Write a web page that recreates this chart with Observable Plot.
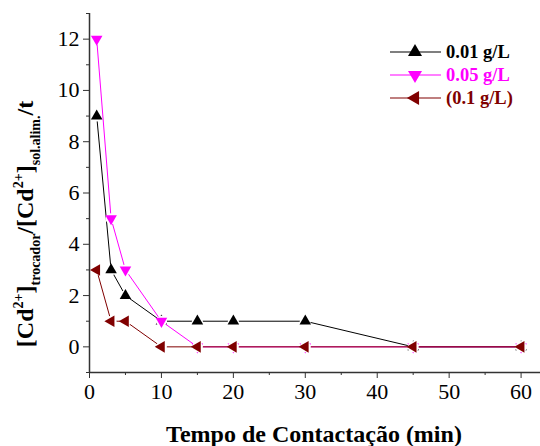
<!DOCTYPE html>
<html>
<head>
<meta charset="utf-8">
<script src="https://cdn.jsdelivr.net/npm/d3@7"></script>
<script src="https://cdn.jsdelivr.net/npm/@observablehq/plot@0.6"></script>
<style>
  html, body { margin: 0; padding: 0; background: #fff; }
  #chart svg { display: block; }
  #chart svg text { font-family: "Liberation Serif", "Times New Roman", serif !important; }
</style>
</head>
<body>
<div id="chart"></div>
<script>
const times = [1, 3, 5, 10, 15, 20, 30, 45, 60];
const series001 = [9, 3, 2, 1, 1, 1, 1, 0, 0];
const series005 = [12, 5, 3, 1, 0, 0, 0, 0, 0];
const series01 = [3, 1, 1, 0, 0, 0, 0, 0, 0];
const seriesNames = ["0.01 g/L", "0.05 g/L", "(0.1 g/L)"];
const seriesColors = ["#000000", "#ff00ff", "#800000"];
const seriesRotate = [0, 180, -90];
const xMajorTicks = [0, 10, 20, 30, 40, 50, 60];
const xMinorTicks = [5, 15, 25, 35, 45, 55];
const yMajorTicks = [0, 2, 4, 6, 8, 10, 12];
const yMinorTicks = [-1, 1, 3, 5, 7, 9, 11, 13];

const allValues = [series001, series005, series01];
const data = [];
allValues.forEach((vals, si) => {
  vals.forEach((v, i) => data.push({series: seriesNames[si], t: times[i], v, si}));
});

const W = 540, H = 446;
const font = "'Liberation Serif', 'Times New Roman', serif";

const marks = [
  Plot.ruleY([-1], {stroke: "#333", strokeWidth: 1.5}),
  Plot.ruleX([0], {stroke: "#333", strokeWidth: 1.5}),
  Plot.axisX(xMajorTicks, {tickSize: 6, tickPadding: 5, fontSize: 22, label: null, stroke: "#333"}),
  Plot.axisX(xMinorTicks, {tickSize: 3, text: null, label: null, stroke: "#333"}),
  Plot.axisY(yMajorTicks, {tickSize: 6, tickPadding: 4, fontSize: 22, label: null, stroke: "#333"}),
  Plot.axisY(yMinorTicks, {tickSize: 3, text: null, label: null, stroke: "#333"})
];
seriesNames.forEach((name, si) => {
  const d = data.filter(p => p.si === si);
  marks.push(Plot.line(d, {x: "t", y: "v", stroke: seriesColors[si], strokeWidth: 1}));
  marks.push(Plot.dot(d, {x: "t", y: "v", symbol: "circle", r: 5.5, fill: "#fff", stroke: "none"}));
  marks.push(Plot.dot(d, {x: "t", y: "v", symbol: "triangle", r: 4.3, fill: seriesColors[si], stroke: "none", rotate: seriesRotate[si]}));
});

const plot = Plot.plot({
  width: W,
  height: H,
  marginLeft: 89,
  marginRight: 0,
  marginTop: 13,
  marginBottom: 74,
  style: {fontFamily: font, background: "#fff", color: "#000"},
  x: {domain: [0, 62.7], label: null},
  y: {domain: [-1, 13], label: null},
  marks
});
document.getElementById("chart").appendChild(plot);

const svg = d3.select(plot);

// X axis title
svg.append("text")
  .attr("x", 314).attr("y", 442)
  .attr("text-anchor", "middle")
  .attr("font-weight", "bold").attr("font-size", 24)
  .attr("fill", "#000")
  .text("Tempo de Contactação (min)");

// Y axis title with super/subscripts
const yt = svg.append("text")
  .attr("transform", "translate(33,224) rotate(-90)")
  .attr("text-anchor", "middle")
  .attr("font-weight", "bold").attr("font-size", 24)
  .attr("fill", "#000");
const parts = [
  ["[Cd", 0, 24], ["2+", -10, 14], ["]", 10, 24], ["trocador", 7, 14], ["/[Cd", -7, 24],
  ["2+", -10, 14], ["]", 10, 24], ["sol.alim.", 7, 14], ["/t", -7, 24]
];
parts.forEach(([txt, dy, fs]) => {
  yt.append("tspan").attr("dy", dy).attr("font-size", fs).text(txt);
});

// Legend
const legendRows = [52, 75, 98];
seriesNames.forEach((name, si) => {
  const y = legendRows[si];
  const g = svg.append("g");
  g.append("line").attr("x1", 390).attr("x2", 441).attr("y1", y).attr("y2", y)
    .attr("stroke", seriesColors[si]).attr("stroke-width", 1.2);
  g.append("path")
    .attr("d", d3.symbol(d3.symbolTriangle, Math.PI * 5.2 * 5.2)())
    .attr("transform", `translate(415,${y}) rotate(${seriesRotate[si]})`)
    .attr("fill", seriesColors[si]);
  g.append("text").attr("x", 446).attr("y", y + 6)
    .attr("text-anchor", "start")
    .attr("font-weight", "bold").attr("font-size", 18.5)
    .attr("fill", seriesColors[si]).text(name);
});
</script>
</body>
</html>
